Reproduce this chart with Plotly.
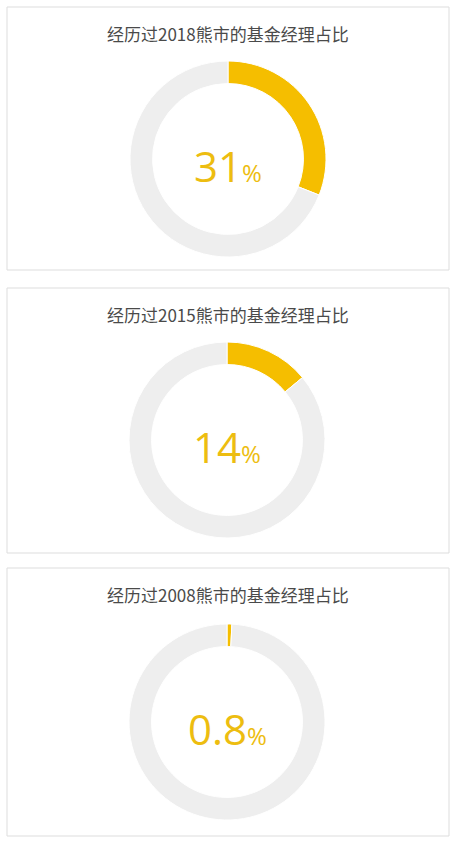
import plotly.graph_objects as go

W, H = 457, 841

# data
titles = ["经历过2018熊市的基金经理占比",
          "经历过2015熊市的基金经理占比",
          "经历过2008熊市的基金经理占比"]
shares = [31, 14, 0.8]
labels_txt = ["31", "14", "0.8"]

YELLOW = "#F5BE00"
GREY = "#EEEEEE"
FONT = "Noto Sans CJK SC"

# panel layout in pixels (top, bottom) and donut centre / radius
panels = [(7, 270), (288, 553), (568, 836)]
centres = [(228, 159), (227, 440), (227, 722)]
radius = 98

fig = go.Figure()
shapes = []
annots = []

for i in range(3):
    cx, cy = centres[i]
    fig.add_trace(go.Pie(
        values=[shares[i], 100 - shares[i]],
        labels=["经历过", "未经历"],
        hole=0.77,
        sort=False,
        direction="clockwise",
        rotation=0,
        marker=dict(colors=[YELLOW, GREY], line=dict(color="white", width=1)),
        textinfo="none",
        hoverinfo="label+percent",
        showlegend=False,
        domain=dict(x=[(cx - radius) / W, (cx + radius) / W],
                    y=[1 - (cy + radius) / H, 1 - (cy - radius) / H]),
    ))

    top, bot = panels[i]
    shapes.append(dict(type="rect", xref="paper", yref="paper",
                       x0=7 / W, x1=449 / W, y0=1 - bot / H, y1=1 - top / H,
                       line=dict(color="#DDDDDD", width=1)))

    annots.append(dict(text=titles[i], xref="paper", yref="paper",
                       x=228 / W, y=1 - (top + 26) / H, showarrow=False,
                       xanchor="center", yanchor="middle",
                       font=dict(family=FONT, size=17, color="#4A4A4A")))

    annots.append(dict(text=labels_txt[i] + "<span style='font-size:24px'>%</span>",
                       xref="paper", yref="paper",
                       x=cx / W, y=1 - (cy + 6) / H, showarrow=False,
                       xanchor="center", yanchor="middle",
                       font=dict(family="Open Sans", size=42, color="#EDBD10")))

fig.update_layout(
    width=W, height=H,
    margin=dict(l=0, r=0, t=0, b=0),
    paper_bgcolor="white",
    plot_bgcolor="white",
    shapes=shapes,
    annotations=annots,
)

fig.write_html("out.html", config={"displayModeBar": False},
               post_script="document.body.style.margin='0';")
